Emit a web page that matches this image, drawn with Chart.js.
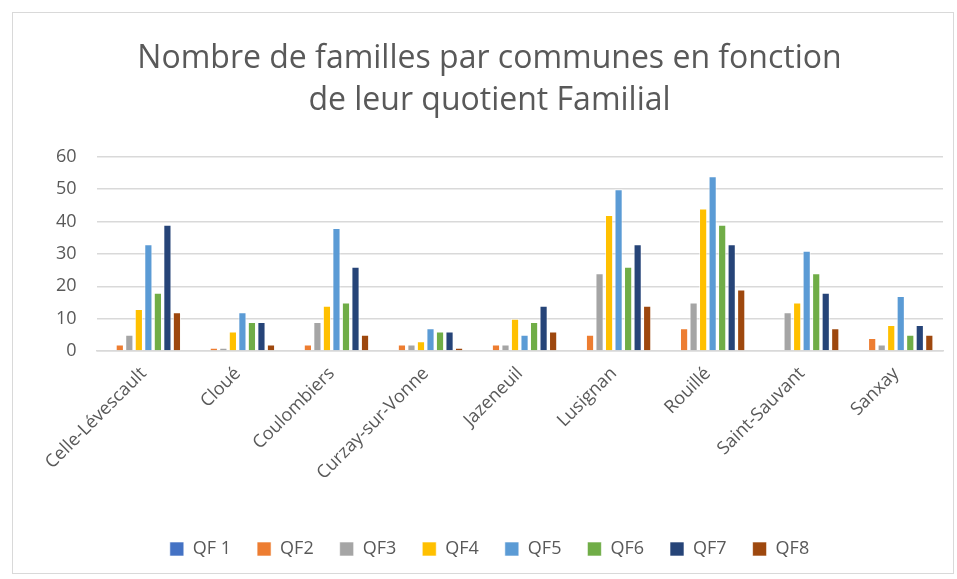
<!DOCTYPE html>
<html>
<head>
<meta charset="utf-8">
<script src="https://cdn.jsdelivr.net/npm/chart.js@4"></script>
<style>
  html, body { margin: 0; padding: 0; background: #fff; }
  #frame { position: absolute; left: 12px; top: 12px; width: 942px; height: 562px; border: 1px solid #d9d9d9; box-sizing: border-box; }
  #wrap { position: absolute; left: 0; top: 0; width: 940px; height: 560px; }
</style>
</head>
<body>
<div id="frame"><div id="wrap"><canvas id="myChart"></canvas></div></div>
<script>
const communes = ['Celle-Lévescault', 'Cloué', 'Coulombiers', 'Curzay-sur-Vonne', 'Jazeneuil', 'Lusignan', 'Rouillé', 'Saint-Sauvant', 'Sanxay'];
const qf1 = [0, 0, 0, 0, 0, 0, 0, 0, 0];
const qf2 = [2, 1, 2, 2, 2, 5, 7, 0, 4];
const qf3 = [5, 1, 9, 2, 2, 24, 15, 12, 2];
const qf4 = [13, 6, 14, 3, 10, 42, 44, 15, 8];
const qf5 = [33, 12, 38, 7, 5, 50, 54, 31, 17];
const qf6 = [18, 9, 15, 6, 9, 26, 39, 24, 5];
const qf7 = [39, 9, 26, 6, 14, 33, 33, 18, 8];
const qf8 = [12, 2, 5, 1, 6, 14, 19, 7, 5];
const seriesNames = ['QF 1', 'QF2', 'QF3', 'QF4', 'QF5', 'QF6', 'QF7', 'QF8'];
const yTicks = [0, 10, 20, 30, 40, 50, 60];

const colors = ['#4472C4', '#ED7D31', '#A5A5A5', '#FFC000', '#5B9BD5', '#70AD47', '#264478', '#9E480E'];
const allSeries = [qf1, qf2, qf3, qf4, qf5, qf6, qf7, qf8];
const fontFam = '"Open Sans", "Liberation Sans", sans-serif';

const ctx = document.getElementById('myChart');

function buildChart() {
    new Chart(ctx, {
        type: 'bar',
        data: {
            labels: communes,
            datasets: allSeries.map((vals, i) => ({
                label: seriesNames[i],
                data: vals,
                backgroundColor: colors[i],
                borderColor: 'rgba(255,255,255,0.6)',
                borderWidth: 1,
                categoryPercentage: 0.81,
                barPercentage: 0.86,
            }))
        },
        options: {
            responsive: true,
            maintainAspectRatio: false,
            animation: false,
            layout: { padding: { left: 23, right: 10, top: 2, bottom: 5 } },
            plugins: {
                title: {
                    display: true,
                    text: ['Nombre de familles par communes en fonction', 'de leur quotient Familial'],
                    color: '#595959',
                    font: { family: fontFam, size: 32, weight: 'normal', lineHeight: 1.34 },
                    padding: { top: 22, bottom: 34 },
                },
                legend: {
                    position: 'bottom',
                    labels: {
                        color: '#595959',
                        font: { family: fontFam, size: 18 },
                        boxWidth: 14,
                        boxHeight: 14,
                        padding: 26,
                        useBorderRadius: false,
                    },
                },
                tooltip: { enabled: false },
            },
            scales: {
                x: {
                    grid: { display: false },
                    border: { color: '#d9d9d9', width: 1.5 },
                    afterFit: scale => { scale.height += 26; },
                    ticks: {
                        color: '#595959',
                        font: { family: fontFam, size: 18 },
                        maxRotation: 45,
                        minRotation: 45,
                        padding: 4,
                    },
                },
                y: {
                    min: 0,
                    max: 60,
                    afterBuildTicks: axis => { axis.ticks = yTicks.map(v => ({ value: v })); },
                    grid: { color: '#d9d9d9', lineWidth: 1.5, drawTicks: false },
                    border: { display: false },
                    ticks: {
                        color: '#595959',
                        font: { family: fontFam, size: 18 },
                        padding: 20,
                    },
                },
            },
        },
    });
}

buildChart();
</script>
</body>
</html>
